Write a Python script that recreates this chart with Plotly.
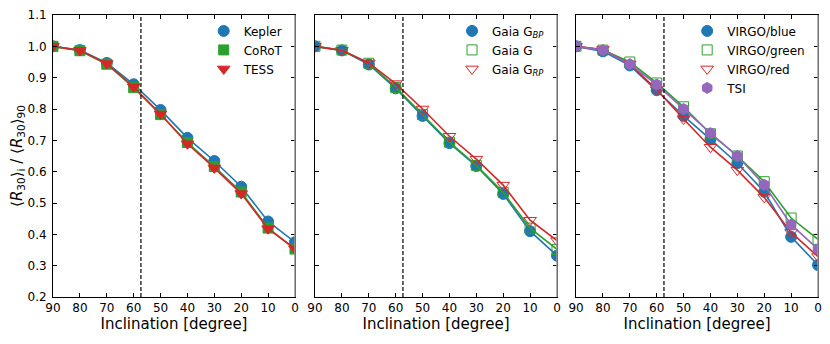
"""Ratio <R30>_i / <R30>_90 versus inclination for several passbands."""

import plotly.graph_objects as go
from plotly.subplots import make_subplots

inclination = [90, 80, 70, 60, 50, 40, 30, 20, 10, 0]
y_ticks = [0.2, 0.3, 0.4, 0.5, 0.6, 0.7, 0.8, 0.9, 1.0, 1.1]

# panel 1: missions
kepler = [1.0, 0.988, 0.947, 0.879, 0.797, 0.708, 0.634, 0.552, 0.441, 0.375]
corot = [1.0, 0.986, 0.943, 0.868, 0.782, 0.693, 0.616, 0.535, 0.420, 0.353]
tess = [1.0, 0.987, 0.945, 0.871, 0.784, 0.689, 0.612, 0.530, 0.418, 0.354]

# panel 2: Gaia bands
gaia_bp = [1.0, 0.987, 0.942, 0.866, 0.778, 0.691, 0.618, 0.529, 0.410, 0.332]
gaia_g = [1.0, 0.988, 0.946, 0.869, 0.782, 0.694, 0.620, 0.534, 0.420, 0.352]
gaia_rp = [1.0, 0.987, 0.947, 0.881, 0.800, 0.713, 0.640, 0.557, 0.445, 0.380]

# panel 3: VIRGO channels + TSI
virgo_blue = [1.0, 0.984, 0.939, 0.860, 0.778, 0.703, 0.627, 0.536, 0.392, 0.302]
virgo_green = [1.0, 0.988, 0.950, 0.883, 0.807, 0.721, 0.650, 0.568, 0.452, 0.384]
virgo_red = [1.0, 0.990, 0.944, 0.862, 0.768, 0.678, 0.605, 0.518, 0.406, 0.329]
tsi = [1.0, 0.988, 0.943, 0.878, 0.800, 0.723, 0.650, 0.558, 0.431, 0.353]

BLUE, GREEN, RED, PURPLE = "#1f77b4", "#2ca02c", "#d62728", "#9467bd"
ONE_RAD = 57.2958

panels = [
    [("Kepler", kepler, BLUE, "circle", 11),
     ("CoRoT", corot, GREEN, "square", 10),
     ("TESS", tess, RED, "triangle-down", 11)],
    [("Gaia G<sub><i>BP</i></sub>", gaia_bp, BLUE, "circle", 11),
     ("Gaia G", gaia_g, GREEN, "square-open", 10),
     ("Gaia G<sub><i>RP</i></sub>", gaia_rp, RED, "triangle-down-open", 11)],
    [("VIRGO/blue", virgo_blue, BLUE, "circle", 11),
     ("VIRGO/green", virgo_green, GREEN, "square-open", 10),
     ("VIRGO/red", virgo_red, RED, "triangle-down-open", 11),
     ("TSI", tsi, PURPLE, "hexagon", 11)],
]

fig = make_subplots(rows=1, cols=3, horizontal_spacing=0.026)
legend_names = ["legend", "legend2", "legend3"]

for col, series in enumerate(panels, start=1):
    for name, vals, color, symbol, size in series:
        marker = dict(symbol=symbol, size=size, color=color,
                      line=dict(width=1, color=color))
        fig.add_trace(go.Scatter(
            x=inclination, y=vals, mode="lines+markers",
            line=dict(color=color, width=1.6), marker=marker,
            showlegend=False, hoverinfo="skip",
        ), row=1, col=col)
        # marker-only legend entry
        fig.add_trace(go.Scatter(
            x=[None], y=[None], mode="markers", name=name, marker=marker,
            legend=legend_names[col - 1],
        ), row=1, col=col)
    suffix = str(col) if col > 1 else ""
    fig.add_shape(type="line", x0=ONE_RAD, x1=ONE_RAD, y0=0, y1=1,
                  xref=f"x{suffix}", yref=f"y{suffix} domain",
                  line=dict(color="black", width=1.2, dash="4px,2px"))
    # right spine is drawn lighter in the original
    fig.add_shape(type="line", x0=1, x1=1, y0=0, y1=1,
                  xref=f"x{suffix} domain", yref=f"y{suffix} domain",
                  line=dict(color="#9a9a9a", width=1.5), layer="above")

# the page body adds an 8px offset, so the figure is sized 8px smaller
domains = [[0, 0.3163], [0.3425, 0.6588], [0.6837, 1.0]]
for col in range(1, 4):
    fig.update_xaxes(
        domain=domains[col - 1], range=[90, 0], tickvals=inclination,
        ticks="inside", ticklen=4, tickcolor="black", showline=True,
        linecolor="black", mirror="ticks", showgrid=False, zeroline=False,
        automargin=False, ticklabeloverflow="allow",
        title=dict(text="Inclination [degree]", font=dict(size=15), standoff=0),
        tickfont=dict(size=12), row=1, col=col)
    fig.update_yaxes(
        range=[0.2, 1.1], tickvals=y_ticks, ticktext=[f"{v:.1f}" for v in y_ticks],
        ticks="inside", ticklen=4, tickcolor="black", showline=True,
        linecolor="black", mirror="ticks", showgrid=False, zeroline=False,
        automargin=False, ticklabelstandoff=3, ticklabeloverflow="allow",
        showticklabels=(col == 1), tickfont=dict(size=12), row=1, col=col)

fig.update_yaxes(
    title=dict(text="⟨<i>R</i><sub>30</sub>⟩<sub>i</sub> / ⟨<i>R</i><sub>30</sub>⟩<sub>90</sub>",
               font=dict(size=15), standoff=0),
    row=1, col=1)

legend_style = dict(font=dict(size=12, color="black"), bgcolor="rgba(0,0,0,0)",
                    borderwidth=0, yanchor="top", y=0.995, xanchor="left",
                    tracegroupgap=0, itemwidth=30)
fig.update_layout(
    width=822, height=336,
    margin=dict(l=45, r=12, t=7, b=47),
    paper_bgcolor="white", plot_bgcolor="white",
    font=dict(family="DejaVu Sans", color="black"),
    legend=dict(x=0.197, **legend_style),
    legend2=dict(x=0.5216, **legend_style),
    legend3=dict(x=0.829, **legend_style),
)

fig.write_html("out.html")
